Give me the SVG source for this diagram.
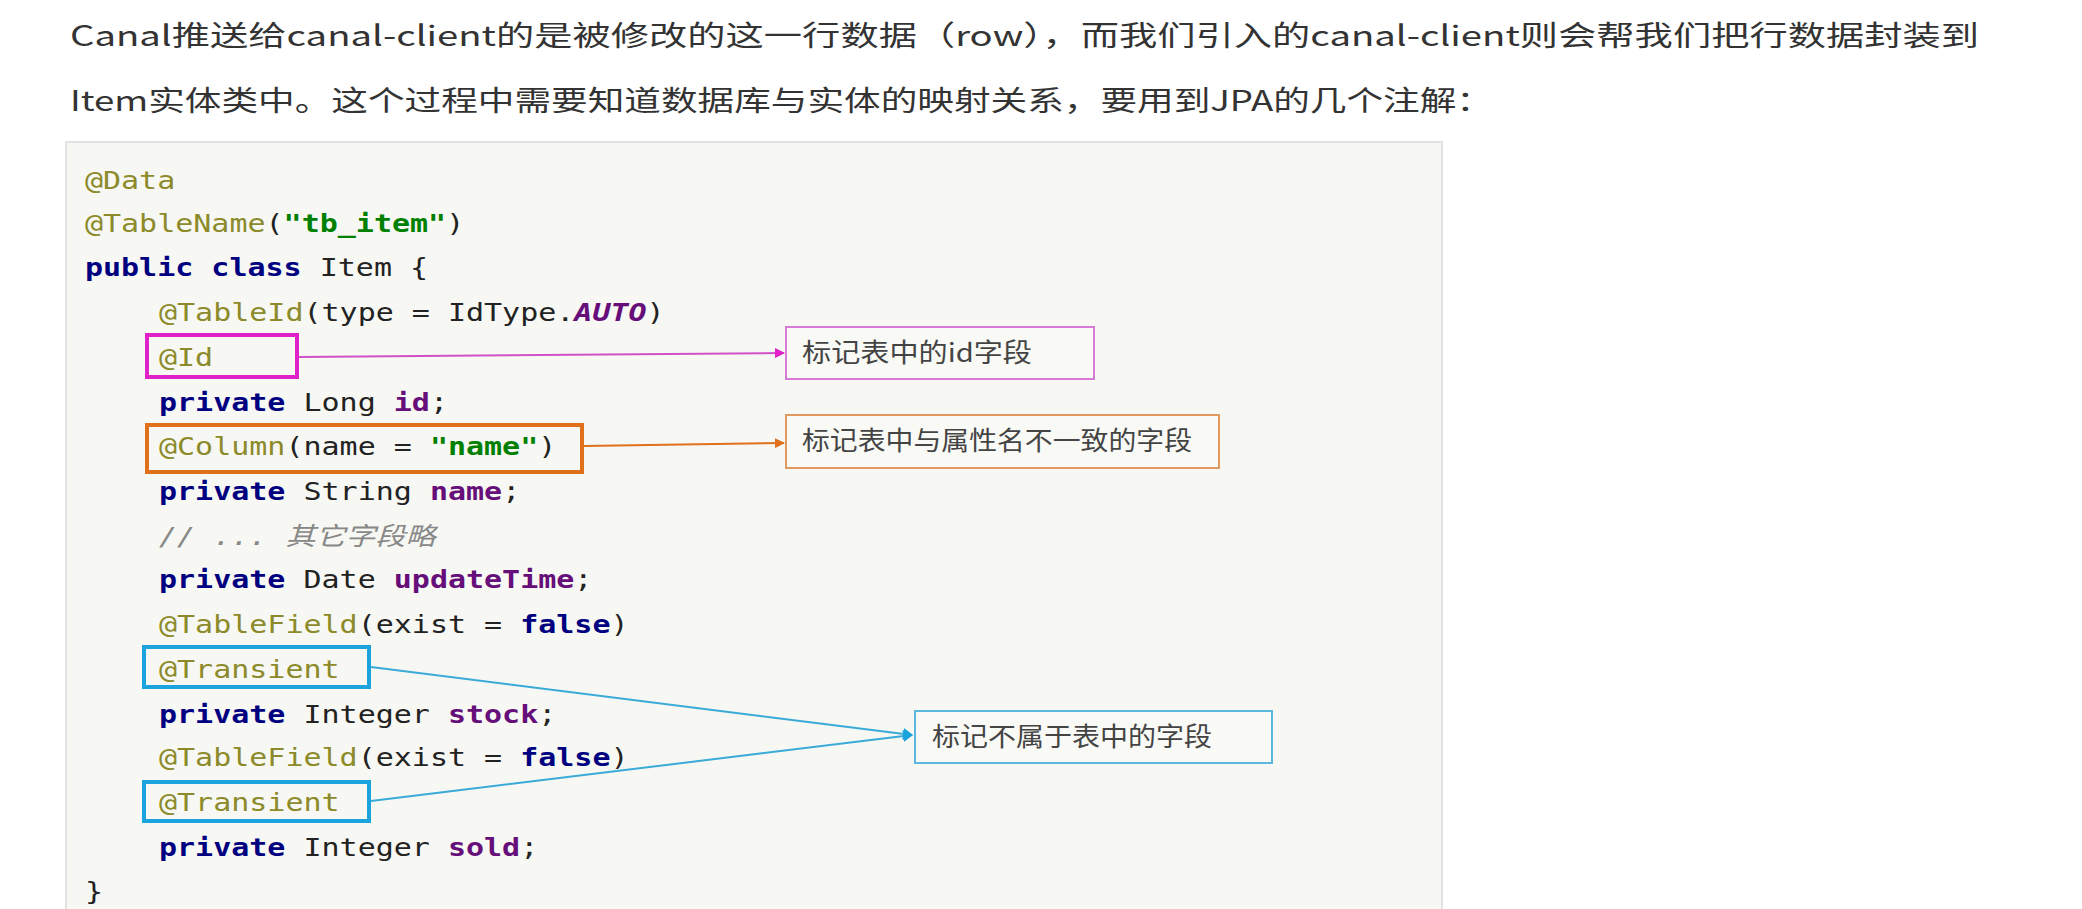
<svg xmlns="http://www.w3.org/2000/svg" width="2082" height="909" viewBox="0 0 2082 909">
<style>
.hd{font-family:"Noto Sans CJK SC","Noto Sans",sans-serif;font-size:28px;fill:#333}
.cd{font-family:"DejaVu Sans Mono","Liberation Mono",monospace;font-size:25px;fill:#222}
.an{fill:#8c8a2a}.kw{fill:#000080;font-weight:bold}.fd{fill:#660e7a;font-weight:bold}.st{fill:#008000;font-weight:bold}
.it{fill:#660e7a;font-weight:bold;font-style:italic}
.cm{fill:#888;font-style:italic;font-family:"DejaVu Sans Mono","Noto Sans CJK SC",monospace}
.lb{font-family:"Noto Sans CJK SC","Noto Sans",sans-serif;font-size:26px;fill:#444}
</style>
<defs>
<marker id="mM" markerWidth="10" markerHeight="10" refX="9" refY="5" orient="auto" markerUnits="userSpaceOnUse"><path d="M0,0L10,5L0,10z" fill="#e020c8"/></marker>
<marker id="mO" markerWidth="10" markerHeight="10" refX="9" refY="5" orient="auto" markerUnits="userSpaceOnUse"><path d="M0,0L10,5L0,10z" fill="#e0701a"/></marker>
<marker id="mB" markerWidth="10" markerHeight="12" refX="9" refY="6" orient="auto" markerUnits="userSpaceOnUse"><path d="M0,0L10,6L0,12z" fill="#1aa3dc"/></marker>
</defs>
<rect width="2082" height="909" fill="#fff"/>
<g id="header">
<text class="hd" x="70" y="46" textLength="1909" lengthAdjust="spacingAndGlyphs">Canal推送给canal-client的是被修改的这一行数据（row），而我们引入的canal-client则会帮我们把行数据封装到</text>
<text class="hd" x="70" y="111" textLength="1423" lengthAdjust="spacingAndGlyphs">Item实体类中。这个过程中需要知道数据库与实体的映射关系，要用到JPA的几个注解：</text>
</g>
<g id="codebox">
<rect x="66" y="142" width="1376" height="780" fill="#f7f8f3" stroke="#e2e2e2" stroke-width="2"/>
<g transform="scale(1.2,1)" class="cd">
<text x="70.8" y="189"><tspan class="an">@Data</tspan></text>
<text x="70.8" y="232"><tspan class="an">@TableName</tspan>(<tspan class="st">"tb_item"</tspan>)</text>
<text x="70.8" y="276"><tspan class="kw">public</tspan> <tspan class="kw">class</tspan> Item {</text>
<text x="132.5" y="321"><tspan class="an">@TableId</tspan>(type = IdType.<tspan class="it">AUTO</tspan>)</text>
<text x="132.5" y="366"><tspan class="an">@Id</tspan></text>
<text x="132.5" y="411"><tspan class="kw">private</tspan> Long <tspan class="fd">id</tspan>;</text>
<text x="132.5" y="455"><tspan class="an">@Column</tspan>(name = <tspan class="st">"name"</tspan>)</text>
<text x="132.5" y="500"><tspan class="kw">private</tspan> String <tspan class="fd">name</tspan>;</text>
<text x="132.5" y="545" class="cm">// ... 其它字段略</text>
<text x="132.5" y="588"><tspan class="kw">private</tspan> Date <tspan class="fd">updateTime</tspan>;</text>
<text x="132.5" y="633"><tspan class="an">@TableField</tspan>(exist = <tspan class="kw">false</tspan>)</text>
<text x="132.5" y="678"><tspan class="an">@Transient</tspan></text>
<text x="132.5" y="723"><tspan class="kw">private</tspan> Integer <tspan class="fd">stock</tspan>;</text>
<text x="132.5" y="766"><tspan class="an">@TableField</tspan>(exist = <tspan class="kw">false</tspan>)</text>
<text x="132.5" y="811"><tspan class="an">@Transient</tspan></text>
<text x="132.5" y="856"><tspan class="kw">private</tspan> Integer <tspan class="fd">sold</tspan>;</text>
<text x="70.8" y="900">}</text>
</g>
</g>
<g id="highlights" fill="none" stroke-width="4">
<rect id="hl-id" x="147" y="335" width="150" height="42" stroke="#e020c8"/>
<rect id="hl-column" x="147" y="425" width="435" height="47" stroke="#e0701a"/>
<rect id="hl-transient1" x="144" y="647" width="225" height="40" stroke="#1aa3dc"/>
<rect id="hl-transient2" x="144" y="782" width="225" height="39" stroke="#1aa3dc"/>
</g>
<g id="connectors" fill="none" stroke-width="2">
<line x1="299" y1="357" x2="784" y2="353" stroke="#d050c8" marker-end="url(#mM)"/>
<line x1="584" y1="446" x2="784" y2="443" stroke="#e0701a" marker-end="url(#mO)"/>
<line x1="371" y1="667" x2="912" y2="735" stroke="#3aaad8" marker-end="url(#mB)"/>
<line x1="371" y1="801" x2="912" y2="735" stroke="#3aaad8" marker-end="url(#mB)"/>
</g>
<g id="note-id">
<rect x="786" y="327" width="308" height="52" fill="#f9faf6" stroke="#d77ad6" stroke-width="2"/>
<text class="lb" x="802" y="362" textLength="230" lengthAdjust="spacingAndGlyphs">标记表中的id字段</text>
</g>
<g id="note-column">
<rect x="786" y="415" width="433" height="53" fill="#f9faf6" stroke="#e09a60" stroke-width="2"/>
<text class="lb" x="802" y="450" textLength="390" lengthAdjust="spacingAndGlyphs">标记表中与属性名不一致的字段</text>
</g>
<g id="note-transient">
<rect x="915" y="711" width="357" height="52" fill="#f9faf6" stroke="#5ab8e0" stroke-width="2"/>
<text class="lb" x="932" y="746" textLength="280" lengthAdjust="spacingAndGlyphs">标记不属于表中的字段</text>
</g>
</svg>
